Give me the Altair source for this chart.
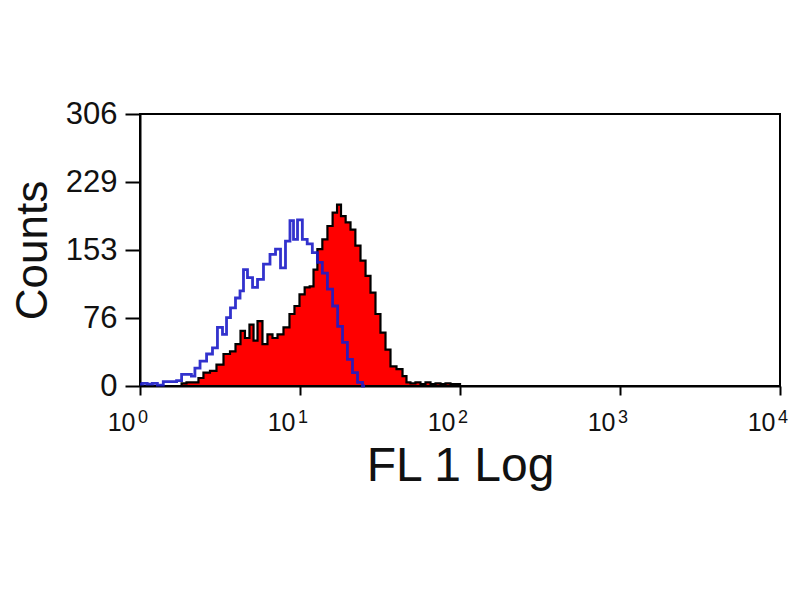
import altair as alt
import pandas as pd

# stained sample (red filled histogram): FL1 value, counts
stained_fl = [1.78, 1.86, 2.05, 2.27, 2.37, 2.62, 2.86, 3.16, 3.50, 3.81, 4.10, 4.40, 4.66, 5.01,
              5.24, 5.62, 6.04, 6.49, 6.98, 7.50, 8.29, 8.91, 9.57, 10.3, 11.1, 11.9, 12.4, 13.3,
              14.3, 15.4, 16.6, 17.5, 18.6, 20.0, 21.4, 23.0, 24.8, 26.6, 28.6, 30.7, 33.0, 35.5,
              38.1, 42.2, 45.3, 47.3, 50.8, 54.6, 58.7, 63.1, 67.8, 72.9, 78.3, 84.1, 90.4, 97.2, 103]
stained_counts = [0, 3, 4, 4, 9, 15, 17, 24, 36, 39, 47, 62, 54, 69,
                  51, 73, 47, 58, 54, 58, 66, 81, 90, 103, 111, 112, 131, 154,
                  165, 180, 195, 204, 191, 184, 176, 158, 141, 124, 105, 81, 60, 41,
                  22, 19, 11, 4, 3, 4, 2, 4, 2, 3, 2, 3, 2, 2, 0]

# isotype control (blue outline)
isotype_fl = [1.00, 1.07, 1.15, 1.24, 1.33, 1.47, 1.61, 1.78, 1.86, 2.05, 2.14, 2.27, 2.48, 2.74,
              2.94, 3.16, 3.40, 3.55, 3.81, 4.10, 4.34, 4.53, 4.87, 5.24, 5.62, 6.22, 6.78, 7.29,
              7.83, 8.41, 8.91, 9.31, 10.0, 10.7, 11.5, 12.4, 13.3, 14.3, 15.4, 16.6, 17.8, 19.1,
              20.5, 22.1, 23.7, 25.5]
isotype_counts = [2, 3, 2, 3, 1, 5, 5, 6, 13, 13, 11, 20, 28, 36,
                  43, 66, 58, 77, 88, 99, 107, 131, 122, 111, 120, 137, 148, 154,
                  133, 163, 186, 165, 187, 165, 160, 150, 139, 127, 109, 90, 67, 49,
                  30, 15, 4, 0]

x_ticks = [1, 10, 100, 1000, 10000]
x_exponents = ["0", "1", "2", "3", "4"]
y_ticks = [0, 76, 153, 229, 306]

stained = pd.DataFrame({"fl": stained_fl, "count": stained_counts})
isotype = pd.DataFrame({"fl": isotype_fl, "count": isotype_counts})
exps = pd.DataFrame({"fl": x_ticks, "exp": x_exponents})

FONT = "Liberation Sans"

x_enc = alt.X(
    "fl:Q",
    scale=alt.Scale(type="log", domain=[1, 10000]),
    axis=alt.Axis(
        values=x_ticks, labelExpr="'10'",
        labelFontSize=25, labelBaseline="alphabetic", labelAlign="right",
        labelPadding=35, labelOffset=-5,
        tickSize=9, title="FL 1 Log", titleFontSize=48, titleFontWeight="normal",
        titleBaseline="alphabetic", titleX=320, titleY=94,
    ),
)
y_enc = alt.Y(
    "count:Q",
    scale=alt.Scale(domain=[0, 306], nice=False),
    axis=alt.Axis(
        values=y_ticks, labelFontSize=31, labelPadding=8, tickSize=15,
        title="Counts", titleFontSize=44, titleFontWeight="normal",
        titleAngle=270, titleBaseline="alphabetic", titleX=-94, titleY=136,
    ),
)

filled = alt.Chart(stained).mark_area(
    interpolate="step", color="#ff0000", stroke="black", strokeWidth=2.2
).encode(x=x_enc, y=y_enc)

outline = alt.Chart(isotype).mark_line(
    interpolate="step", color="#1c1cc8", strokeWidth=2.8, opacity=0.9
).encode(x="fl:Q", y="count:Q")

# exponent part of the "10^n" tick labels
powers = alt.Chart(exps).mark_text(
    align="left", baseline="alphabetic", fontSize=18, font=FONT, color="#111", dx=-2
).encode(x="fl:Q", y=alt.value(309), text="exp:N")

chart = alt.layer(filled, outline, powers).properties(
    width=640, height=272,
    autosize="none",
    padding={"left": 132, "top": 106, "right": 12, "bottom": 200},
).configure_view(
    stroke="black", strokeWidth=2
).configure_axis(
    grid=False, domainColor="black", domainWidth=2, tickColor="black", tickWidth=2,
    labelColor="#111", titleColor="#111", labelFont=FONT, titleFont=FONT,
)

chart.save("out.html", embed_options={"renderer": "svg", "actions": False})
